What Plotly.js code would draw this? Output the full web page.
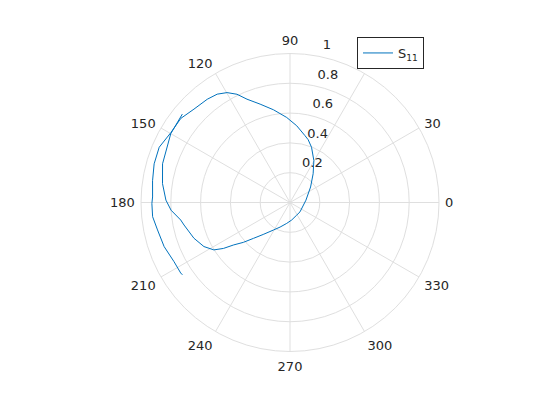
<!DOCTYPE html>
<html>
<head>
<meta charset="utf-8">
<script src="https://cdn.plot.ly/plotly-3.0.1.min.js"></script>
<style>html,body{margin:0;padding:0;background:#fff;}#chart{width:560px;height:420px;}</style>
</head>
<body>
<div id="chart"></div>
<script>
// S11 pattern, angle in degrees (sweep > 360 so the ends overlap)
var thetaDeg = [140.6, 150, 163.1, 171.6, 178.9, 183.7, 189.1, 192, 200.4, 207.1, 211.9, 214.6, 217, 220.5, 224.5, 230, 238.9, 248, 261, 275.5, 297.8, 316.8, 8.2, 37, 51.2, 60.4, 68.7, 73.9, 77.4, 85, 92.2, 100.1, 106.9, 112.6, 116.1, 119.8, 123.9, 128.7, 135.8, 142.4, 149.6, 157.1, 164.1, 171, 177.7, 180.4, 185.9, 191.7, 199.3, 207, 212.8, 213.9];
var rho = [0.935, 0.924, 0.894, 0.865, 0.833, 0.80, 0.743, 0.727, 0.688, 0.649, 0.602, 0.543, 0.473, 0.412, 0.343, 0.28, 0.216, 0.178, 0.142, 0.118, 0.096, 0.092, 0.108, 0.173, 0.248, 0.324, 0.398, 0.439, 0.46, 0.517, 0.571, 0.632, 0.690, 0.751, 0.809, 0.850, 0.876, 0.888, 0.899, 0.925, 0.927, 0.953, 0.948, 0.934, 0.923, 0.927, 0.927, 0.908, 0.895, 0.874, 0.873, 0.87];
var angTicks = [0, 30, 60, 90, 120, 150, 180, 210, 240, 270, 300, 330];
var radTicks = [0.2, 0.4, 0.6, 0.8, 1];
var seriesName = 'S<sub>11</sub>';

var W = 560, H = 420, cx = 290, cy = 202.5, R = 149, labelLift = 14;
var gridCol = '#dfdfdf', textCol = '#262626';
var fnt = {family: 'DejaVu Sans', size: 13, color: textCol};
var dom = {x: [(cx - R) / W, (cx + R) / W], y: [(H - cy - R) / H, (H - cy + R) / H]};
var domLabels = {x: dom.x, y: [dom.y[0] + labelLift / H, dom.y[1] + labelLift / H]};

Plotly.newPlot('chart', [{
  type: 'scatterpolar', mode: 'lines',
  theta: thetaDeg, r: rho, name: seriesName,
  line: {color: '#0072BD', width: 1},
  showlegend: true
}, {
  // carrier for the radial tick labels, drawn slightly above the grid points as in the reference
  type: 'scatterpolar', mode: 'lines', subplot: 'polar2',
  theta: [], r: [], showlegend: false, hoverinfo: 'skip'
}], {
  width: W, height: H,
  margin: {l: 0, r: 0, t: 0, b: 0},
  paper_bgcolor: '#fff',
  showlegend: true,
  font: fnt,
  legend: {x: 357 / W, y: 1 - 37 / H, xanchor: 'left', yanchor: 'top',
           bordercolor: textCol, borderwidth: 1, bgcolor: '#fff', font: fnt},
  polar: {
    domain: dom,
    bgcolor: '#fff',
    angularaxis: {
      rotation: 0, direction: 'counterclockwise',
      tickmode: 'array', tickvals: angTicks, ticktext: angTicks.map(String),
      ticks: 'outside', ticklen: 3, tickcolor: 'rgba(0,0,0,0)',
      showline: true, linecolor: gridCol, linewidth: 1,
      showgrid: true, gridcolor: gridCol, gridwidth: 1,
      tickfont: fnt
    },
    radialaxis: {
      range: [0, 1], angle: 80, side: 'clockwise',
      tickmode: 'array', tickvals: radTicks,
      ticks: '', showline: false, showgrid: true, gridcolor: gridCol, gridwidth: 1,
      showticklabels: false
    }
  },
  polar2: {
    domain: domLabels,
    bgcolor: 'rgba(0,0,0,0)',
    angularaxis: {visible: false, showgrid: false, showline: false, showticklabels: false, ticks: ''},
    radialaxis: {
      range: [0, 1], angle: 80, side: 'clockwise',
      tickmode: 'array', tickvals: radTicks, ticktext: radTicks.map(String),
      ticks: '', showline: false, showgrid: false,
      tickangle: 80, tickfont: fnt
    }
  }
}, {staticPlot: true});
</script>
</body>
</html>
